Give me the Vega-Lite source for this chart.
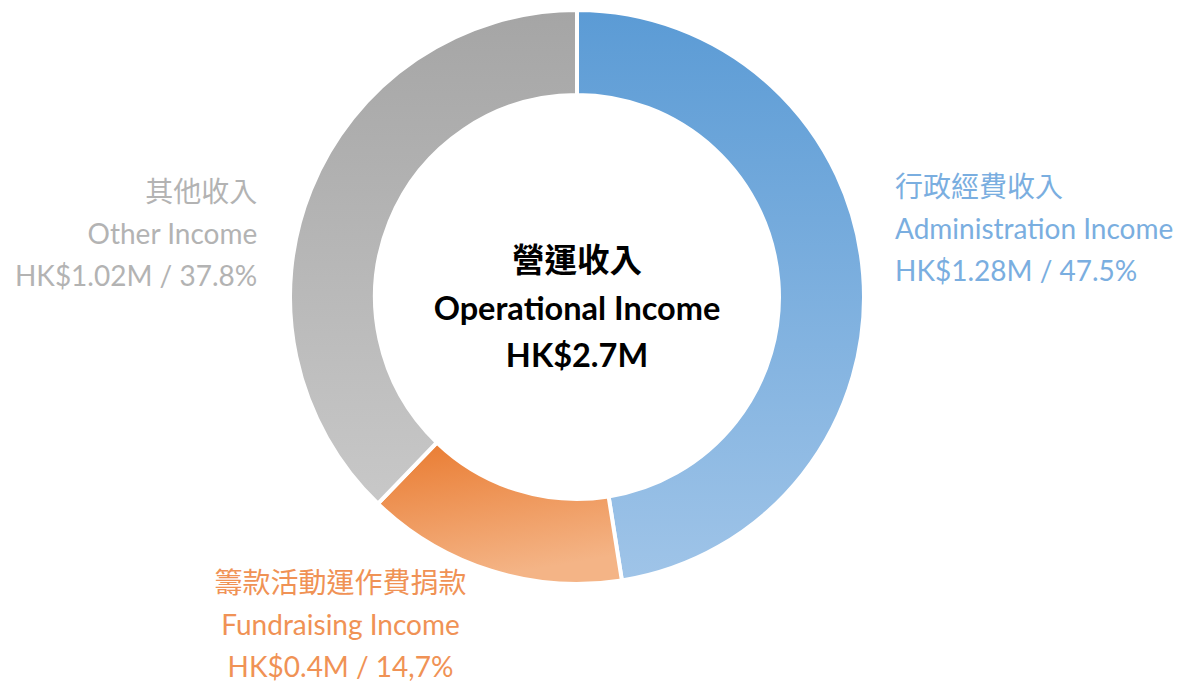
{
  "$schema": "https://vega.github.io/schema/vega-lite/v6.json",
  "autosize": "none",
  "width": 1154,
  "height": 594,
  "padding": {"left": 0, "top": 0, "right": 29, "bottom": 88},
  "background": "white",
  "config": {"view": {"stroke": null}, "font": "Lato, Noto Sans CJK TC, sans-serif"},
  "data": {
    "values": [
      {"name": "Administration", "value": 47.5, "label": "行政經費收入\nAdministra‌tion Income\nHK$1.28M / 47.5%"},
      {"name": "Fundraising", "value": 14.7, "label": "籌款活動運作費捐款\nFundraising Income\nHK$0.4M / 14,7%"},
      {"name": "Other", "value": 37.8, "label": "其他收入\nOther Income\nHK$1.02M / 37.8%"}
    ]
  },
  "transform": [
    {"stack": "value", "groupby": [], "sort": [{"field": "name", "order": "ascending"}], "as": ["v0", "v1"]}
  ],
  "layer": [
    {
      "transform": [{"filter": "datum.name === 'Administration'"}],
      "mark": {"type": "arc", "outerRadius": 287, "innerRadius": 202, "stroke": "white", "strokeWidth": 4,
        "fill": {"gradient": "linear", "x1": 0, "y1": 0, "x2": 0, "y2": 1, "stops": [{"offset": 0, "color": "#5b9bd5"}, {"offset": 1, "color": "#9fc4e8"}]}},
      "encoding": {
        "theta": {"field": "v0", "type": "quantitative", "scale": {"domain": [0, 100]}},
        "theta2": {"field": "v1"}
      }
    },
    {
      "transform": [{"filter": "datum.name === 'Fundraising'"}],
      "mark": {"type": "arc", "outerRadius": 287, "innerRadius": 202, "stroke": "white", "strokeWidth": 4,
        "fill": {"gradient": "linear", "x1": 0, "y1": 0, "x2": 0.3, "y2": 1, "stops": [{"offset": 0, "color": "#e97a2f"}, {"offset": 1, "color": "#f4b486"}]}},
      "encoding": {
        "theta": {"field": "v0", "type": "quantitative", "scale": {"domain": [0, 100]}},
        "theta2": {"field": "v1"}
      }
    },
    {
      "transform": [{"filter": "datum.name === 'Other'"}],
      "mark": {"type": "arc", "outerRadius": 287, "innerRadius": 202, "stroke": "white", "strokeWidth": 4,
        "fill": {"gradient": "linear", "x1": 0, "y1": 0, "x2": 0, "y2": 1, "stops": [{"offset": 0, "color": "#a5a5a5"}, {"offset": 1, "color": "#c8c8c8"}]}},
      "encoding": {
        "theta": {"field": "v0", "type": "quantitative", "scale": {"domain": [0, 100]}},
        "theta2": {"field": "v1"}
      }
    },
    {
      "mark": {"type": "text", "radius": 320, "align": "left", "baseline": "middle", "lineBreak": "\n", "lineHeight": 42, "fontSize": 28, "dx": -1, "dy": -83, "color": "#7aaee0"},
      "encoding": {
        "theta": {"field": "value", "type": "quantitative", "stack": true, "scale": {"domain": [0, 100]}},
        "order": {"field": "name", "sort": "ascending"},
        "text": {"condition": {"test": "datum.name === 'Administration'", "field": "label"}, "value": ""}
      }
    },
    {
      "mark": {"type": "text", "radius": 345, "align": "center", "baseline": "middle", "lineBreak": "\n", "lineHeight": 42, "fontSize": 28, "dx": -133, "dy": -41, "color": "#f09255"},
      "encoding": {
        "theta": {"field": "value", "type": "quantitative", "stack": true, "scale": {"domain": [0, 100]}},
        "order": {"field": "name", "sort": "ascending"},
        "text": {"condition": {"test": "datum.name === 'Fundraising'", "field": "label"}, "value": ""}
      }
    },
    {
      "mark": {"type": "text", "radius": 320, "align": "right", "baseline": "middle", "lineBreak": "\n", "lineHeight": 42, "fontSize": 28, "dx": -23, "dy": 17, "color": "#b3b3b3"},
      "encoding": {
        "theta": {"field": "value", "type": "quantitative", "stack": true, "scale": {"domain": [0, 100]}},
        "order": {"field": "name", "sort": "ascending"},
        "text": {"condition": {"test": "datum.name === 'Other'", "field": "label"}, "value": ""}
      }
    },
    {
      "data": {"values": [{"title": "營運收入\nOpera‌tional Income\nHK$2.7M"}]},
      "mark": {"type": "text", "align": "center", "baseline": "middle", "lineBreak": "\n", "lineHeight": 47.5, "fontSize": 32.5, "fontWeight": "bold", "dy": -35, "color": "#000000"},
      "encoding": {"text": {"field": "title", "type": "nominal"}}
    }
  ]
}
